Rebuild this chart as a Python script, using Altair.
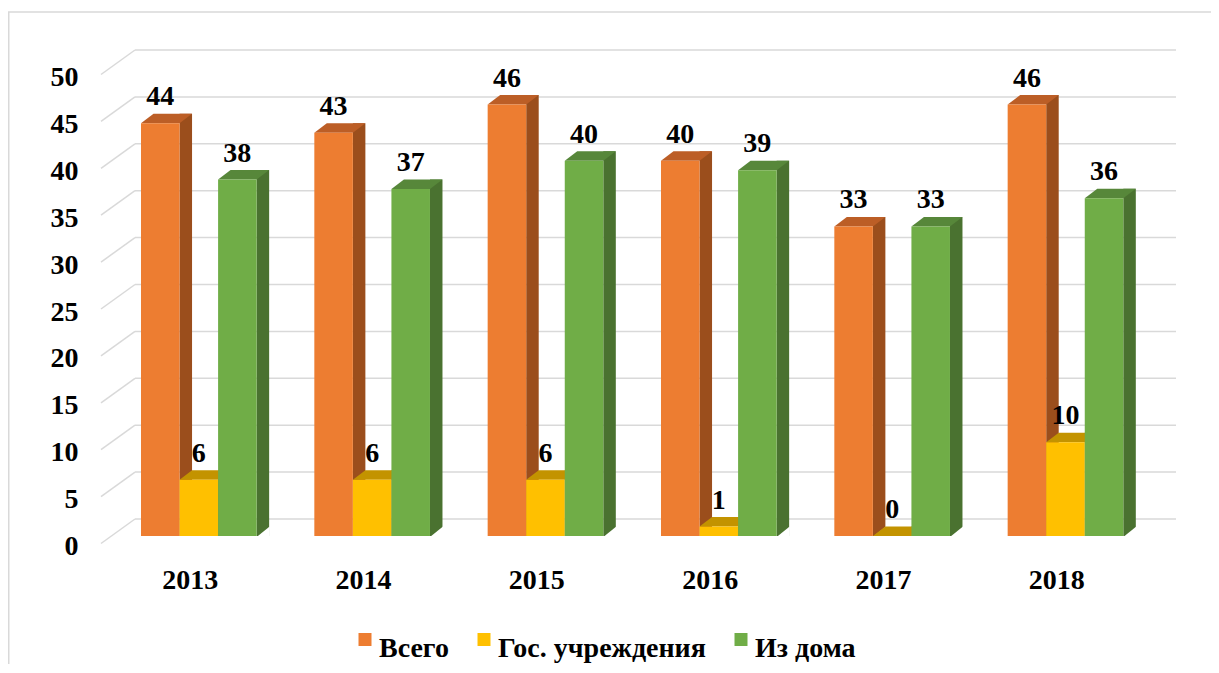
import json
import altair as alt
import pandas as pd

# ---- data -------------------------------------------------------------
YEARS = ["2013", "2014", "2015", "2016", "2017", "2018"]
SERIES = ["Всего", "Гос. учреждения", "Из дома"]
TOTAL = [44, 43, 46, 40, 33, 46]
GOV = [6, 6, 6, 1, 0, 10]
HOME = [38, 37, 40, 39, 33, 36]
Y_TICKS = [0, 5, 10, 15, 20, 25, 30, 35, 40, 45, 50]

# ---- styles -----------------------------------------------------------
FRONT = ["#ED7D31", "#FFC000", "#70AD47"]
SIDE = ["#9B4E1C", "#A07800", "#4A7230"]
TOP = ["#BC5E26", "#C39300", "#57873A"]
GRID = "#D9D9D9"
FONT = "Liberation Serif"

# ---- layout -----------------------------------------------------------
W, H = 1040, 469
PAD = {"left": 95, "top": 59, "right": 68, "bottom": 128}
GS = 0.2192      # group start within a year slot (in slot units)
BW = 0.2224      # bar width (slot units)
DX, DY = 12.5, 9.5
BACK = -17
FRONT_OFF = 7.5

rows = []
for si, (name, vals) in enumerate(zip(SERIES, [TOTAL, GOV, HOME])):
    for yi, (yr, v) in enumerate(zip(YEARS, vals)):
        rows.append(dict(year=yr, yi=yi, series=name, si=si, value=v,
                         side=SIDE[si], top=TOP[si]))
df = pd.DataFrame(rows)
grid_df = pd.DataFrame({"v": Y_TICKS})

xs = alt.Scale(domain=[0, 6], nice=False, zero=False)
ys = alt.Scale(domain=[0, 50], nice=False)

label_expr = json.dumps(YEARS) + "[floor(datum.value)]"
xaxis = alt.Axis(values=[i + 0.5 for i in range(len(YEARS))], labelExpr=label_expr,
                 title=None, domain=False, ticks=False, grid=False,
                 labelFont=FONT, labelFontSize=28, labelFontWeight="bold",
                 labelColor="black", labelBaseline="alphabetic", labelPadding=52,
                 labelAlign="center", labelFlush=False, labelOverlap=False)
yaxis = alt.Axis(values=Y_TICKS, title=None, domain=False, ticks=False, grid=False,
                 labelFont=FONT, labelFontSize=28, labelFontWeight="bold",
                 labelColor="black", labelPadding=25, labelOffset=10.5,
                 labelBaseline="middle", labelFlush=False, labelOverlap=False)

base = alt.Chart(df).transform_calculate(
    x0=f"datum.yi + {GS} + datum.si * {BW}",
).transform_calculate(
    x1=f"datum.x0 + {BW}",
    xc=f"datum.x0 + {BW / 2}",
)

border = alt.Chart(pd.DataFrame({"a": [0]})).mark_rect(
    fillOpacity=0, stroke=GRID, strokeWidth=1.5
).encode(x=alt.value(-94.25), x2=alt.value(1300), y=alt.value(-55), y2=alt.value(800))

back_grid = alt.Chart(grid_df).mark_rule(color=GRID, strokeWidth=1.5, yOffset=BACK).encode(
    x=alt.value(32), x2=alt.value(1073),
    y=alt.Y("v:Q", scale=ys, axis=yaxis),
)
diag_grid = alt.Chart(grid_df).mark_rule(
    color=GRID, strokeWidth=1.5, yOffset=FRONT_OFF, y2Offset=BACK
).encode(
    x=alt.value(-2), x2=alt.value(32),
    y=alt.Y("v:Q", scale=ys, axis=yaxis), y2=alt.Y2("v"),
)

sides = base.mark_rect(yOffset=-DY, x2Offset=DX).encode(
    x=alt.X("x1:Q", scale=xs, axis=xaxis), x2=alt.X2("x1"),
    y=alt.Y("value:Q", scale=ys, axis=yaxis), y2=alt.datum(0),
    fill=alt.Fill("side:N", scale=None),
)

s = 10.0  # custom-shape unit (size 400 -> 10px)
bwpx = BW * W / 6
tri_path = f"M0,0.1 L{DX/s + 0.05:.3f},0.1 L{DX/s + 0.05:.3f},{-DY/s:.3f} Z"
top_path = (f"M0,0 L{bwpx/s:.3f},0 L{(bwpx+DX)/s:.3f},{-DY/s:.3f} "
            f"L{DX/s:.3f},{-DY/s:.3f} Z")
# legend square (13px, shifted 4.5px down relative to the label row centre)
legend_sq = "M-1,-0.31 L1,-0.31 L1,1.69 L-1,1.69 Z"

covers = base.mark_point(shape=tri_path, size=400, filled=True, fill="white",
                         opacity=1, strokeOpacity=0).encode(
    x=alt.X("x1:Q", scale=xs, axis=xaxis), y=alt.datum(0),
)

tops = base.mark_point(shape=top_path, size=400, filled=True, opacity=1,
                       strokeOpacity=0).encode(
    x=alt.X("x0:Q", scale=xs, axis=xaxis),
    y=alt.Y("value:Q", scale=ys, axis=yaxis),
    fill=alt.Fill("top:N", scale=None),
)

fronts = base.mark_rect().encode(
    x=alt.X("x0:Q", scale=xs, axis=xaxis), x2=alt.X2("x1"),
    y=alt.Y("value:Q", scale=ys, axis=yaxis), y2=alt.datum(0),
    color=alt.Color("series:N", scale=alt.Scale(domain=SERIES, range=FRONT),
                    sort=SERIES,
                    legend=alt.Legend(orient="none", legendX=248, legendY=554,
                                      direction="horizontal", title=None,
                                      symbolType=legend_sq, symbolSize=169,
                                      symbolStrokeWidth=0, symbolOpacity=1,
                                      labelFont=FONT, labelFontSize=28,
                                      labelFontWeight="bold", labelColor="black",
                                      labelOffset=0, columnPadding=21, padding=0,
                                      labelBaseline="top", labelLimit=0)),
)

labels = base.mark_text(font=FONT, fontSize=28, fontWeight="bold", baseline="alphabetic",
                        dy=-18, color="black").encode(
    x=alt.X("xc:Q", scale=xs, axis=xaxis),
    y=alt.Y("value:Q", scale=ys, axis=yaxis),
    text="value:Q",
)

chart = alt.layer(border, back_grid, diag_grid, sides, covers, tops, fronts, labels).properties(
    width=W, height=H, padding=PAD,
    autosize=alt.AutoSizeParams(type="none"),
).configure_view(strokeWidth=0)

chart.save("out.html", embed_options={"renderer": "svg", "actions": False})
